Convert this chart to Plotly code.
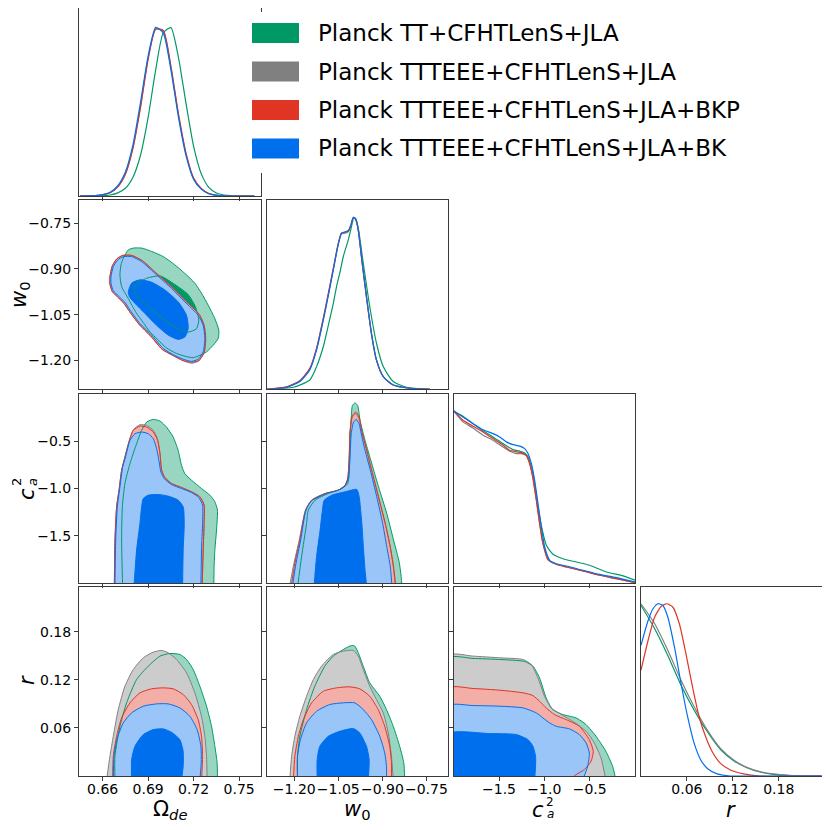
import plotly.graph_objects as go

# the page body keeps an 8px margin, so the figure is drawn 8px in from the corner
OFF = 8
W = H = 814

GREEN, GREY, RED, BLUE = '#009966', '#808080', '#E03424', '#006FED'
LIGHT = {GREEN: '#99D6C2', GREY: '#CCCCCC', RED: '#F3AEA7', BLUE: '#99C5F8'}

labels = ['Planck TT+CFHTLenS+JLA', 'Planck TTTEEE+CFHTLenS+JLA',
          'Planck TTTEEE+CFHTLenS+JLA+BKP', 'Planck TTTEEE+CFHTLenS+JLA+BK']
colors = [GREEN, GREY, RED, BLUE]

# parameter axes: Omega_de, w0, c_a^2, r
om_range = [0.6444, 0.7641]
w0_range = [-1.2945, -0.6755]
c2_range = [-2.0, 0.0]
r_range = [0.0, 0.2365]
om_ticks = [0.66, 0.69, 0.72, 0.75]
om_ticktext = ['0.66', '0.69', '0.72', '0.75']
w0_ticks = [-1.20, -1.05, -0.90, -0.75]
w0_ticktext = ['\u22121.20', '\u22121.05', '\u22120.90', '\u22120.75']
c2_ticks = [-1.5, -1.0, -0.5]
c2_ticktext = ['\u22121.5', '\u22121.0', '\u22120.5']
r_ticks = [0.06, 0.12, 0.18]
r_ticktext = ['0.06', '0.12', '0.18']

# ---- 1D marginals (normalised to peak) ----
om_grid = [0.645, 0.650, 0.655, 0.660, 0.665, 0.670, 0.675, 0.680, 0.685, 0.690, 0.695, 0.700,
           0.705, 0.710, 0.715, 0.720, 0.725, 0.730, 0.735, 0.740, 0.745, 0.750, 0.755, 0.760]
om_green = [0.0, 0.0, 0.0005, 0.002, 0.006, 0.018, 0.045, 0.11, 0.24, 0.46, 0.74, 0.955,
            0.985, 0.81, 0.54, 0.29, 0.13, 0.05, 0.018, 0.006, 0.002, 0.0005, 0.0, 0.0]
om_grey = [0.0, 0.001, 0.002, 0.007, 0.02, 0.055, 0.13, 0.285, 0.525, 0.805, 0.978, 0.965,
           0.755, 0.475, 0.247, 0.103, 0.043, 0.014, 0.004, 0.001, 0.0, 0.0, 0.0, 0.0]
om_red = [0.0, 0.001, 0.002, 0.007, 0.019, 0.053, 0.127, 0.28, 0.52, 0.80, 0.975, 0.968,
          0.76, 0.48, 0.25, 0.105, 0.044, 0.015, 0.005, 0.001, 0.0, 0.0, 0.0, 0.0]
om_blue = [0.0, 0.001, 0.003, 0.008, 0.022, 0.06, 0.14, 0.30, 0.55, 0.82, 0.987, 0.953,
           0.738, 0.46, 0.235, 0.097, 0.04, 0.013, 0.004, 0.001, 0.0, 0.0, 0.0, 0.0]

w0_grid = [-1.294, -1.226, -1.181, -1.147, -1.124, -1.096, -1.067, -1.050, -1.039, -1.027, -1.016, -1.007,
           -0.999, -0.991, -0.982, -0.971, -0.954, -0.937, -0.920, -0.897, -0.863, -0.806, -0.738]
w0_grey = [0.0, 0.013, 0.048, 0.118, 0.235, 0.45, 0.70, 0.847, 0.905, 0.908, 0.918, 0.955,
           1.0, 0.99, 0.928, 0.77, 0.537, 0.323, 0.17, 0.074, 0.025, 0.006, 0.0]
w0_red = [0.0, 0.014, 0.05, 0.122, 0.24, 0.457, 0.705, 0.85, 0.91, 0.915, 0.92, 0.955,
          1.0, 0.99, 0.925, 0.765, 0.532, 0.32, 0.168, 0.073, 0.025, 0.006, 0.0]
w0_blue = [0.0, 0.012, 0.045, 0.113, 0.229, 0.443, 0.695, 0.845, 0.909, 0.915, 0.924, 0.957,
           1.0, 0.99, 0.928, 0.773, 0.54, 0.326, 0.171, 0.074, 0.025, 0.006, 0.0]
w0_green_x = [-1.294, -1.203, -1.147, -1.124, -1.101, -1.085, -1.067, -1.056, -1.045, -1.033, -1.016,
              -1.005, -0.997, -0.990, -0.982, -0.965, -0.943, -0.920, -0.897, -0.863, -0.818, -0.738]
w0_green = [0.0, 0.012, 0.054, 0.132, 0.249, 0.365, 0.5, 0.598, 0.676, 0.773, 0.87,
            0.948, 1.0, 0.99, 0.938, 0.734, 0.482, 0.268, 0.132, 0.045, 0.012, 0.0]

c2_blue_x = [-2.0, -1.897, -1.787, -1.676, -1.566, -1.493, -1.419, -1.346, -1.272, -1.217, -1.180, -1.143,
             -1.107, -1.070, -1.033, -0.996, -0.941, -0.868, -0.757, -0.574, -0.390, -0.206, 0.0]
c2_blue = [1.0, 0.965, 0.926, 0.891, 0.868, 0.849, 0.820, 0.804, 0.795, 0.781, 0.752, 0.694,
           0.597, 0.461, 0.326, 0.209, 0.132, 0.112, 0.099, 0.074, 0.050, 0.031, 0.006]
c2_green_x = [-2.0, -1.897, -1.787, -1.676, -1.566, -1.456, -1.346, -1.272, -1.217, -1.180, -1.143,
              -1.107, -1.070, -1.022, -0.978, -0.904, -0.794, -0.647, -0.500, -0.316, -0.132, 0.0]
c2_green = [1.0, 0.969, 0.926, 0.884, 0.849, 0.810, 0.775, 0.766, 0.756, 0.733, 0.674,
            0.578, 0.442, 0.306, 0.219, 0.167, 0.141, 0.122, 0.103, 0.064, 0.041, 0.016]
c2_red_x = [-2.0, -1.897, -1.787, -1.676, -1.566, -1.456, -1.382, -1.309, -1.254, -1.199, -1.162,
            -1.125, -1.088, -1.052, -1.015, -0.960, -0.868, -0.757, -0.574, -0.390, -0.206, 0.0]
c2_red = [1.0, 0.946, 0.911, 0.878, 0.839, 0.800, 0.771, 0.762, 0.758, 0.742, 0.694,
          0.607, 0.481, 0.345, 0.229, 0.136, 0.109, 0.093, 0.070, 0.045, 0.025, 0.002]
c2_grey = [1.0, 0.936, 0.900, 0.859, 0.830, 0.790, 0.766, 0.752, 0.752, 0.740, 0.694,
           0.607, 0.481, 0.345, 0.229, 0.136, 0.109, 0.093, 0.070, 0.045, 0.025, 0.002]

r_blue_x = [0.0, 0.0093, 0.0157, 0.0222, 0.0286, 0.035, 0.0437, 0.0523, 0.0609, 0.0695, 0.0781,
            0.0867, 0.0996, 0.117, 0.15, 0.236]
r_blue = [0.759, 0.903, 0.971, 1.0, 0.99, 0.923, 0.749, 0.537, 0.344, 0.189, 0.093,
          0.044, 0.012, 0.0, 0.0, 0.0]
r_red_x = [0.0, 0.0093, 0.0179, 0.0265, 0.0338, 0.0415, 0.0501, 0.0587, 0.0673, 0.0759, 0.0845,
           0.0931, 0.1039, 0.1168, 0.134, 0.1555, 0.236]
r_red = [0.614, 0.788, 0.923, 0.985, 1.0, 0.981, 0.884, 0.71, 0.517, 0.344, 0.228,
         0.141, 0.073, 0.035, 0.012, 0.0, 0.0]
r_grey_x = [0.0, 0.0179, 0.035, 0.0523, 0.0695, 0.0867, 0.1039, 0.1211, 0.1383, 0.1555, 0.1727,
            0.1942, 0.2157, 0.236]
r_grey = [1.0, 0.884, 0.73, 0.556, 0.402, 0.266, 0.16, 0.093, 0.05, 0.025, 0.012, 0.004, 0.0, 0.0]
r_green_x = [0.0, 0.0179, 0.035, 0.0523, 0.0695, 0.0867, 0.1039, 0.1211, 0.1383, 0.1555, 0.1727,
             0.1942, 0.236]
r_green = [0.99, 0.855, 0.70, 0.527, 0.382, 0.257, 0.154, 0.089, 0.048, 0.023, 0.01, 0.002, 0.0]

# ---- 2D contours (x, y pairs; 95% outer and 68% inner) ----
# Omega_de vs w0
om_w0_green95_x = [0.6736, 0.6769, 0.6802, 0.6857, 0.6923, 0.7000, 0.7076, 0.7142, 0.7208, 0.7252, 0.7296,
                   0.7340, 0.7366, 0.7362, 0.7329, 0.7285, 0.7241, 0.7197, 0.7142, 0.7087, 0.7021, 0.6962,
                   0.6912, 0.6868, 0.6820, 0.6769, 0.6725, 0.6714, 0.6721]
om_w0_green95_y = [-0.865, -0.838, -0.832, -0.832, -0.843, -0.860, -0.887, -0.915, -0.947, -0.980, -1.019,
                   -1.063, -1.101, -1.128, -1.150, -1.172, -1.183, -1.191, -1.186, -1.177, -1.159, -1.131,
                   -1.107, -1.076, -1.043, -0.997, -0.958, -0.920, -0.887]
om_w0_green68_x = [0.6813, 0.6890, 0.6978, 0.7076, 0.7164, 0.7212, 0.7234, 0.7219, 0.7164, 0.7076, 0.6967,
                   0.6868, 0.6813]
om_w0_green68_y = [-0.953, -0.931, -0.923, -0.951, -0.984, -1.024, -1.068, -1.096, -1.107, -1.090, -1.052,
                   -1.008, -0.980]
om_w0_grey95_x = [0.6732, 0.6791, 0.6861, 0.6960, 0.7059, 0.7149, 0.7237, 0.7269, 0.7277, 0.7269, 0.7234,
                  0.7186, 0.7127, 0.7061, 0.6993, 0.6916, 0.6839, 0.6773, 0.6740, 0.6697, 0.6664, 0.6648,
                  0.6648, 0.6664, 0.6694]
om_w0_grey95_y = [-0.856, -0.856, -0.873, -0.917, -0.961, -1.006, -1.049, -1.085, -1.128, -1.175, -1.202,
                  -1.209, -1.200, -1.183, -1.164, -1.120, -1.081, -1.037, -1.013, -0.991, -0.975, -0.950,
                  -0.926, -0.890, -0.867]
om_w0_red95_x = [0.6732, 0.6791, 0.6861, 0.6960, 0.7059, 0.7149, 0.7237, 0.7269, 0.7280, 0.7269, 0.7234,
                 0.7186, 0.7127, 0.7061, 0.6993, 0.6916, 0.6839, 0.6773, 0.6740, 0.6697, 0.6664, 0.6648,
                 0.6648, 0.6664, 0.6694]
om_w0_red95_y = [-0.856, -0.856, -0.873, -0.917, -0.961, -1.006, -1.049, -1.085, -1.128, -1.175, -1.200,
                 -1.206, -1.200, -1.183, -1.164, -1.120, -1.081, -1.037, -1.013, -0.991, -0.975, -0.950,
                 -0.926, -0.890, -0.867]
om_w0_blue95_x = [0.6736, 0.6791, 0.6857, 0.6956, 0.7054, 0.7142, 0.7230, 0.7263, 0.7274, 0.7263, 0.7230,
                  0.7186, 0.7131, 0.7065, 0.7000, 0.6923, 0.6846, 0.6780, 0.6747, 0.6703, 0.6670, 0.6655,
                  0.6655, 0.6670, 0.6699]
om_w0_blue95_y = [-0.860, -0.860, -0.876, -0.920, -0.964, -1.008, -1.052, -1.085, -1.128, -1.172, -1.196,
                  -1.203, -1.196, -1.181, -1.161, -1.117, -1.079, -1.035, -1.010, -0.988, -0.972, -0.947,
                  -0.926, -0.893, -0.871]
om_w0_blue68_x = [0.6769, 0.6791, 0.6846, 0.6923, 0.7010, 0.7098, 0.7153, 0.7164, 0.7142, 0.7098, 0.7032,
                  0.6956, 0.6879, 0.6813, 0.6776]
om_w0_blue68_y = [-0.975, -0.947, -0.936, -0.944, -0.969, -1.008, -1.052, -1.096, -1.123, -1.131, -1.117,
                  -1.085, -1.046, -1.013, -0.991]

# Omega_de vs c_a^2
om_c2_green95_x = [0.6732, 0.6725, 0.6730, 0.6747, 0.6780, 0.6824, 0.6857, 0.6890, 0.6934, 0.6978, 0.7021,
                   0.7065, 0.7098, 0.7120, 0.7142, 0.7186, 0.7252, 0.7307, 0.7340, 0.7357, 0.7351, 0.7340,
                   0.7335, 0.7333]
om_c2_green95_y = [-2.05, -1.546, -1.195, -0.949, -0.739, -0.528, -0.388, -0.300, -0.272, -0.289, -0.353,
                   -0.458, -0.598, -0.756, -0.844, -0.914, -1.002, -1.072, -1.142, -1.230, -1.440, -1.651,
                   -1.826, -2.05]
om_c2_grey95_x = [0.6677, 0.6681, 0.6692, 0.6708, 0.6725, 0.6747, 0.6773, 0.6802, 0.6846, 0.6890, 0.6934,
                  0.6962, 0.6978, 0.6989, 0.7010, 0.7054, 0.7120, 0.7186, 0.7241, 0.7269, 0.7269, 0.7263,
                  0.7256]
om_c2_grey95_y = [-2.05, -1.546, -1.195, -1.019, -0.809, -0.668, -0.511, -0.381, -0.328, -0.335, -0.388,
                  -0.480, -0.625, -0.805, -0.884, -0.947, -0.990, -1.036, -1.088, -1.175, -1.370, -1.651,
                  -2.05]
om_c2_red95_x = [0.6677, 0.6681, 0.6692, 0.6708, 0.6725, 0.6747, 0.6773, 0.6802, 0.6846, 0.6890, 0.6934,
                 0.6962, 0.6978, 0.6989, 0.7010, 0.7054, 0.7120, 0.7186, 0.7241, 0.7269, 0.7269, 0.7263,
                 0.7256]
om_c2_red95_y = [-2.05, -1.546, -1.195, -1.019, -0.809, -0.668, -0.511, -0.388, -0.342, -0.353, -0.405,
                 -0.493, -0.633, -0.809, -0.886, -0.949, -0.991, -1.037, -1.089, -1.177, -1.370, -1.651,
                 -2.05]
om_c2_blue95_x = [0.6681, 0.6686, 0.6697, 0.6714, 0.6732, 0.6751, 0.6780, 0.6813, 0.6857, 0.6901, 0.6934,
                  0.6956, 0.6971, 0.6984, 0.7006, 0.7054, 0.7120, 0.7186, 0.7234, 0.7259, 0.7259, 0.7252,
                  0.7248]
om_c2_blue95_y = [-2.05, -1.546, -1.195, -0.984, -0.774, -0.668, -0.493, -0.423, -0.405, -0.423, -0.475,
                  -0.581, -0.704, -0.826, -0.897, -0.960, -1.002, -1.044, -1.097, -1.177, -1.370, -1.651,
                  -2.05]
om_c2_blue68_x = [0.6806, 0.6824, 0.6846, 0.6857, 0.6868, 0.6901, 0.6967, 0.7032, 0.7098, 0.7131, 0.7138,
                  0.7131, 0.7127]
om_c2_blue68_y = [-2.05, -1.651, -1.370, -1.195, -1.107, -1.072, -1.065, -1.082, -1.125, -1.195, -1.370,
                  -1.651, -2.05]

# w0 vs c_a^2
w0_c2_green95_x = [-1.189, -1.175, -1.158, -1.152, -1.129, -1.084, -1.038, -1.018, -1.013, -1.010, -1.006,
                   -1.002, -0.993, -0.984, -0.976, -0.959, -0.936, -0.913, -0.885, -0.862, -0.850, -0.842,
                   -0.836, -0.833]
w0_c2_green95_y = [-2.05, -1.721, -1.370, -1.230, -1.125, -1.054, -1.002, -0.949, -0.844, -0.493, -0.247,
                   -0.125, -0.097, -0.125, -0.282, -0.493, -0.739, -0.984, -1.265, -1.546, -1.686, -1.791,
                   -1.932, -2.05]
w0_c2_grey95_x = [-1.217, -1.201, -1.183, -1.162, -1.141, -1.095, -1.050, -1.027, -1.018, -1.013, -1.010,
                  -1.002, -0.991, -0.980, -0.971, -0.954, -0.937, -0.914, -0.891, -0.874, -0.863, -0.855]
w0_c2_grey95_y = [-2.05, -1.791, -1.546, -1.230, -1.125, -1.054, -1.019, -0.967, -0.896, -0.668, -0.400,
                  -0.245, -0.212, -0.260, -0.395, -0.598, -0.809, -1.089, -1.370, -1.616, -1.826, -2.05]
w0_c2_red95_x = [-1.211, -1.198, -1.181, -1.161, -1.141, -1.095, -1.050, -1.027, -1.018, -1.013, -1.010,
                 -1.002, -0.990, -0.979, -0.970, -0.953, -0.936, -0.913, -0.890, -0.873, -0.862, -0.854]
w0_c2_red95_y = [-2.05, -1.791, -1.546, -1.230, -1.125, -1.054, -1.019, -0.967, -0.896, -0.668, -0.388,
                 -0.230, -0.195, -0.247, -0.388, -0.598, -0.809, -1.089, -1.370, -1.616, -1.826, -2.05]
w0_c2_blue95_x = [-1.207, -1.194, -1.178, -1.160, -1.141, -1.095, -1.050, -1.027, -1.016, -1.010, -1.006,
                  -0.998, -0.989, -0.979, -0.972, -0.959, -0.941, -0.919, -0.899, -0.885, -0.873, -0.867]
w0_c2_blue95_y = [-2.05, -1.791, -1.546, -1.230, -1.132, -1.061, -1.019, -0.974, -0.896, -0.668, -0.423,
                  -0.300, -0.272, -0.318, -0.423, -0.598, -0.809, -1.089, -1.370, -1.616, -1.826, -2.05]
w0_c2_blue68_x = [-1.133, -1.124, -1.112, -1.104, -1.098, -1.072, -1.027, -0.987, -0.979, -0.970, -0.964,
                  -0.959, -0.953]
w0_c2_blue68_y = [-2.05, -1.721, -1.440, -1.230, -1.125, -1.072, -1.037, -1.012, -1.089, -1.370, -1.651,
                  -1.862, -2.05]

# Omega_de vs r
om_r_green95_x = [0.6681, 0.6681, 0.6714, 0.6758, 0.6824, 0.6901, 0.6978, 0.7043, 0.7109, 0.7153, 0.7197,
                  0.7241, 0.7285, 0.7318, 0.7340, 0.7355, 0.7357]
om_r_green95_y = [-0.005, 0.0246, 0.0621, 0.0913, 0.1204, 0.1371, 0.1496, 0.1529, 0.1517, 0.1454, 0.1329,
                  0.1121, 0.0871, 0.0621, 0.0371, 0.0163, -0.005]
om_r_grey95_x = [0.6626, 0.6648, 0.6670, 0.6703, 0.6747, 0.6802, 0.6868, 0.6934, 0.6989, 0.7032, 0.7087,
                 0.7153, 0.7208, 0.7252, 0.7274, 0.7285, 0.7289]
om_r_grey95_y = [-0.005, 0.0246, 0.0496, 0.0829, 0.1121, 0.1329, 0.1475, 0.1546, 0.1567, 0.1538, 0.1454,
                 0.1288, 0.1038, 0.0746, 0.0496, 0.0246, -0.005]
om_r_red95_x = [0.6666, 0.6670, 0.6692, 0.6725, 0.6780, 0.6846, 0.6923, 0.6999, 0.7065, 0.7131, 0.7186,
                0.7230, 0.7252, 0.7259, 0.7252]
om_r_red95_y = [-0.005, 0.0246, 0.0496, 0.0725, 0.0913, 0.1038, 0.1088, 0.1100, 0.1088, 0.1017, 0.0892,
                0.0704, 0.0496, 0.0246, -0.005]
om_r_blue95_x = [0.6670, 0.6675, 0.6697, 0.6736, 0.6791, 0.6868, 0.6956, 0.7032, 0.7109, 0.7175, 0.7223,
                 0.7248, 0.7250, 0.7241]
om_r_blue95_y = [-0.005, 0.0246, 0.0475, 0.0663, 0.0788, 0.0871, 0.0900, 0.0900, 0.0850, 0.0746, 0.0579,
                 0.0371, 0.0163, -0.005]
om_r_blue68_x = [0.6791, 0.6791, 0.6813, 0.6868, 0.6934, 0.7000, 0.7054, 0.7109, 0.7131, 0.7131, 0.7120]
om_r_blue68_y = [-0.005, 0.0204, 0.0371, 0.0517, 0.0579, 0.0588, 0.0546, 0.0454, 0.0308, 0.0121, -0.005]

# w0 vs r
w0_r_green95_x = [-1.189, -1.189, -1.181, -1.158, -1.130, -1.096, -1.067, -1.033, -1.005, -0.994, -0.982,
                  -0.965, -0.943, -0.909, -0.886, -0.863, -0.841, -0.827, -0.824]
w0_r_green95_y = [-0.005, 0.0246, 0.0496, 0.0829, 0.1121, 0.1371, 0.1496, 0.1579, 0.1629, 0.1621, 0.1538,
                  0.1371, 0.1163, 0.0996, 0.0829, 0.0621, 0.0371, 0.0163, -0.005]
w0_r_grey95_x = [-1.215, -1.209, -1.198, -1.181, -1.158, -1.135, -1.107, -1.067, -1.033, -0.999, -0.982,
                 -0.965, -0.943, -0.920, -0.897, -0.880, -0.869, -0.863]
w0_r_grey95_y = [-0.005, 0.0246, 0.0496, 0.0746, 0.0996, 0.1204, 0.1371, 0.1517, 0.1558, 0.1567, 0.1496,
                 0.1329, 0.1121, 0.0954, 0.0788, 0.0538, 0.0246, -0.005]
w0_r_red95_x = [-1.203, -1.198, -1.186, -1.169, -1.141, -1.101, -1.056, -1.011, -0.977, -0.943, -0.914,
                -0.892, -0.875, -0.869, -0.869]
w0_r_red95_y = [-0.005, 0.0246, 0.0496, 0.0704, 0.0913, 0.1058, 0.1100, 0.1113, 0.1088, 0.0996, 0.0829,
                0.0621, 0.0371, 0.0163, -0.005]
w0_r_blue95_x = [-1.189, -1.189, -1.179, -1.158, -1.124, -1.079, -1.033, -0.994, -0.965, -0.937, -0.909,
                 -0.892, -0.886, -0.886]
w0_r_blue95_y = [-0.005, 0.0246, 0.0454, 0.0663, 0.0808, 0.0892, 0.0913, 0.0913, 0.0829, 0.0704, 0.0496,
                 0.0288, 0.0121, -0.005]
w0_r_blue68_x = [-1.122, -1.122, -1.113, -1.084, -1.045, -0.999, -0.977, -0.954, -0.945, -0.948]
w0_r_blue68_y = [-0.005, 0.0204, 0.0371, 0.0496, 0.0558, 0.0592, 0.0538, 0.0371, 0.0204, -0.005]

# c_a^2 vs r
c2_r_green95_x = [-2.05, -2.05, -1.786, -1.493, -1.218, -1.126, -1.053, -0.980, -0.907, -0.797, -0.650,
                  -0.540, -0.430, -0.321, -0.247, -0.211]
c2_r_green95_y = [-0.005, 0.1475, 0.1467, 0.1454, 0.1429, 0.1371, 0.1225, 0.0975, 0.0829, 0.0767, 0.0725,
                  0.0642, 0.0496, 0.0308, 0.0121, -0.005]
c2_r_grey95_x = [-2.05, -2.05, -1.786, -1.493, -1.236, -1.145, -1.071, -0.998, -0.925, -0.833, -0.687,
                 -0.540, -0.449, -0.375, -0.321]
c2_r_grey95_y = [-0.005, 0.1508, 0.1496, 0.1475, 0.1454, 0.1392, 0.1225, 0.0996, 0.0850, 0.0779, 0.0683,
                 0.0558, 0.0413, 0.0225, -0.005]
c2_r_red95_x = [-2.05, -2.05, -1.786, -1.493, -1.236, -1.126, -1.053, -0.980, -0.888, -0.760, -0.614,
                -0.504, -0.460, -0.485, -0.559, -0.650, -0.723]
c2_r_red95_y = [-0.005, 0.1100, 0.1092, 0.1071, 0.1038, 0.1004, 0.0933, 0.0850, 0.0767, 0.0704, 0.0621,
                0.0454, 0.0308, 0.0183, 0.0079, 0.0017, -0.005]
c2_r_blue95_x = [-2.05, -2.05, -1.786, -1.493, -1.236, -1.090, -1.016, -0.943, -0.870, -0.723, -0.614,
                 -0.540, -0.504, -0.522, -0.577]
c2_r_blue95_y = [-0.005, 0.0879, 0.0879, 0.0871, 0.0850, 0.0788, 0.0725, 0.0663, 0.0621, 0.0588, 0.0517,
                 0.0413, 0.0288, 0.0121, -0.005]
c2_r_blue68_x = [-2.05, -2.05, -1.603, -1.310, -1.181, -1.126, -1.097, -1.097, -1.108]
c2_r_blue68_y = [-0.005, 0.0529, 0.0529, 0.0517, 0.0454, 0.0371, 0.0246, 0.0121, -0.005]


# panel layout in page pixels (left, right) per column and (top, bottom) per row
col_px = [(79, 260.5), (266.5, 448.3), (453.7, 635), (641, 822.3)]
row_px = [(7, 196), (200.3, 389.3), (393.7, 583), (586.5, 776)]

var_range = [om_range, w0_range, c2_range, r_range]
var_ticks = [om_ticks, w0_ticks, c2_ticks, r_ticks]
var_ticktext = [om_ticktext, w0_ticktext, c2_ticktext, r_ticktext]
diag_range = [0, 1.1]

panels = {}
k = 0
for row in range(4):
    for col in range(row + 1):
        k += 1
        panels[(row, col)] = k


def ax_names(k):
    return ('x', 'y') if k == 1 else (f'x{k}', f'y{k}')


def fx(x):
    return min(max((x - OFF) / W, 0.0), 1.0)


def fy(y):
    return min(max(1 - (y - OFF) / H, 0.0), 1.0)


fig = go.Figure()


def add_line(k, xs, ys, color, width=1.2):
    xa, ya = ax_names(k)
    fig.add_trace(go.Scatter(x=xs, y=ys, mode='lines', xaxis=xa, yaxis=ya,
                             line=dict(color=color, width=width, shape='spline', smoothing=0.6),
                             hoverinfo='skip', showlegend=False))


def add_contours(k, contours, ymin):
    xa, ya = ax_names(k)
    # fills first, then the outlines on top
    for color, level, xs, ys in contours:
        fill = color if level == 68 else LIGHT[color]
        fig.add_trace(go.Scatter(x=xs, y=ys, mode='lines', fill='toself', fillcolor=fill,
                                 xaxis=xa, yaxis=ya,
                                 line=dict(width=0, shape='spline', smoothing=0.6),
                                 hoverinfo='skip', showlegend=False))
    for color, level, xs, ys in contours:
        lx, ly = list(xs), list(ys)
        if ys[0] >= ymin:
            lx.append(xs[0])
            ly.append(ys[0])
        add_line(k, lx, ly, color, width=1)


# diagonal 1D plots
for xs, ys, c in [(om_grid, om_green, GREEN), (om_grid, om_grey, GREY),
                  (om_grid, om_red, RED), (om_grid, om_blue, BLUE)]:
    add_line(panels[(0, 0)], xs, ys, c)
for xs, ys, c in [(w0_green_x, w0_green, GREEN), (w0_grid, w0_grey, GREY),
                  (w0_grid, w0_red, RED), (w0_grid, w0_blue, BLUE)]:
    add_line(panels[(1, 1)], xs, ys, c)
for xs, ys, c in [(c2_green_x, c2_green, GREEN), (c2_red_x, c2_grey, GREY),
                  (c2_red_x, c2_red, RED), (c2_blue_x, c2_blue, BLUE)]:
    add_line(panels[(2, 2)], xs, ys, c)
for xs, ys, c in [(r_green_x, r_green, GREEN), (r_grey_x, r_grey, GREY),
                  (r_red_x, r_red, RED), (r_blue_x, r_blue, BLUE)]:
    add_line(panels[(3, 3)], xs, ys, c)

# 2D panels
add_contours(panels[(1, 0)], [
    (GREEN, 95, om_w0_green95_x, om_w0_green95_y),
    (GREEN, 68, om_w0_green68_x, om_w0_green68_y),
    (GREY, 95, om_w0_grey95_x, om_w0_grey95_y),
    (RED, 95, om_w0_red95_x, om_w0_red95_y),
    (BLUE, 95, om_w0_blue95_x, om_w0_blue95_y),
    (BLUE, 68, om_w0_blue68_x, om_w0_blue68_y)], w0_range[0])
add_contours(panels[(2, 0)], [
    (GREEN, 95, om_c2_green95_x, om_c2_green95_y),
    (GREY, 95, om_c2_grey95_x, om_c2_grey95_y),
    (RED, 95, om_c2_red95_x, om_c2_red95_y),
    (BLUE, 95, om_c2_blue95_x, om_c2_blue95_y),
    (BLUE, 68, om_c2_blue68_x, om_c2_blue68_y)], c2_range[0])
add_contours(panels[(2, 1)], [
    (GREEN, 95, w0_c2_green95_x, w0_c2_green95_y),
    (GREY, 95, w0_c2_grey95_x, w0_c2_grey95_y),
    (RED, 95, w0_c2_red95_x, w0_c2_red95_y),
    (BLUE, 95, w0_c2_blue95_x, w0_c2_blue95_y),
    (BLUE, 68, w0_c2_blue68_x, w0_c2_blue68_y)], c2_range[0])
add_contours(panels[(3, 0)], [
    (GREEN, 95, om_r_green95_x, om_r_green95_y),
    (GREY, 95, om_r_grey95_x, om_r_grey95_y),
    (RED, 95, om_r_red95_x, om_r_red95_y),
    (BLUE, 95, om_r_blue95_x, om_r_blue95_y),
    (BLUE, 68, om_r_blue68_x, om_r_blue68_y)], r_range[0])
add_contours(panels[(3, 1)], [
    (GREEN, 95, w0_r_green95_x, w0_r_green95_y),
    (GREY, 95, w0_r_grey95_x, w0_r_grey95_y),
    (RED, 95, w0_r_red95_x, w0_r_red95_y),
    (BLUE, 95, w0_r_blue95_x, w0_r_blue95_y),
    (BLUE, 68, w0_r_blue68_x, w0_r_blue68_y)], r_range[0])
add_contours(panels[(3, 2)], [
    (GREEN, 95, c2_r_green95_x, c2_r_green95_y),
    (GREY, 95, c2_r_grey95_x, c2_r_grey95_y),
    (RED, 95, c2_r_red95_x, c2_r_red95_y),
    (BLUE, 95, c2_r_blue95_x, c2_r_blue95_y),
    (BLUE, 68, c2_r_blue68_x, c2_r_blue68_y)], r_range[0])

# axes
FONT = 'DejaVu Sans'
axis_style = dict(showline=True, mirror=True, linecolor='#3a3a3a', linewidth=1,
                  ticks='outside', ticklen=4, tickwidth=1, tickcolor='#3a3a3a',
                  showgrid=False, zeroline=False, tickangle=0,
                  tickfont=dict(family=FONT, size=14, color='black'))
layout_axes = {}
for (row, col), k in panels.items():
    xa, ya = ax_names(k)
    xkey = 'xaxis' if k == 1 else f'xaxis{k}'
    ykey = 'yaxis' if k == 1 else f'yaxis{k}'
    layout_axes[xkey] = dict(axis_style, domain=[fx(col_px[col][0]), fx(col_px[col][1])],
                             range=var_range[col], anchor=ya,
                             tickvals=var_ticks[col], ticktext=var_ticktext[col],
                             showticklabels=(row == 3), ticklabelstandoff=-4)
    ydom = [fy(row_px[row][1]), fy(row_px[row][0])]
    if row == col:
        layout_axes[ykey] = dict(axis_style, domain=ydom, range=diag_range, anchor=xa,
                                 ticks='', showticklabels=False)
    else:
        layout_axes[ykey] = dict(axis_style, domain=ydom, range=var_range[row], anchor=xa,
                                 tickvals=var_ticks[row], ticktext=var_ticktext[row],
                                 showticklabels=(col == 0))

annotations = []
shapes = []


def text_at(x, y, text, size, angle=0, xanchor='center'):
    annotations.append(dict(x=fx(x), y=fy(y), xref='paper', yref='paper', text=text, showarrow=False,
                            xanchor=xanchor, yanchor='middle', textangle=angle, borderpad=0,
                            font=dict(family=FONT, size=size, color='black')))


# axis labels
text_at(170, 810, '\u03a9<sub><i>de</i></sub>', 21)
text_at(357, 810, '<i>w</i><sub>0</sub>', 21)
text_at(538, 810, '<i>c</i>', 21)
text_at(550, 802, '2', 12)
text_at(550, 814, '<i>a</i>', 12)
text_at(731, 810, '<i>r</i>', 21)
text_at(20, 295, '<i>w</i><sub>0</sub>', 21, angle=-90)
text_at(27, 494, '<i>c</i>', 21, angle=-90)
text_at(16, 482, '2', 13, angle=-90)
text_at(32, 482, '<i>a</i>', 13, angle=-90)
text_at(27, 680, '<i>r</i>', 21, angle=-90)

# legend
shapes.append(dict(type='rect', xref='paper', yref='paper', x0=fx(248), y0=fy(173), x1=fx(830), y1=fy(12),
                   fillcolor='white', line=dict(width=0), layer='above'))
for i, (lab, c) in enumerate(zip(labels, colors)):
    yc = 33 + i * 38.5
    shapes.append(dict(type='rect', xref='paper', yref='paper', x0=fx(252), y0=fy(yc + 10),
                       x1=fx(299), y1=fy(yc - 10), fillcolor=c, line=dict(width=0), layer='above'))
    text_at(317, yc, lab, 23, xanchor='left')

fig.update_layout(
    width=W, height=H,
    margin=dict(l=0, r=0, t=0, b=0),
    paper_bgcolor='white', plot_bgcolor='white',
    showlegend=False, hovermode=False,
    annotations=annotations, shapes=shapes,
    **layout_axes
)

fig.write_html('out.html')
